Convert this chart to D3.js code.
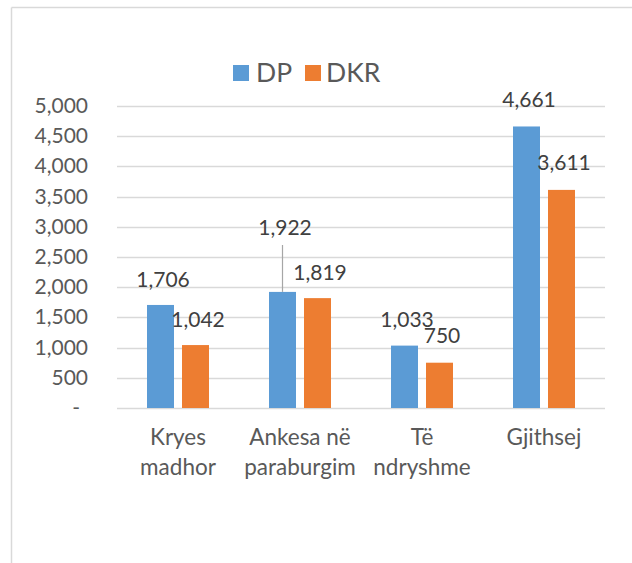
<!DOCTYPE html>
<html><head><meta charset="utf-8">
<script src="https://cdn.jsdelivr.net/npm/d3@7"></script>
<style>body{margin:0;background:#fff}svg{display:block}text{font-family:Lato,"Open Sans",sans-serif}</style>
</head><body>
<script>
const categories = [["Kryes","madhor"],["Ankesa në","paraburgim"],["Të","ndryshme"],["Gjithsej"]];
const seriesNames = ["DP","DKR"];
const dpValues = [1706, 1922, 1033, 4661];
const dkrValues = [1042, 1819, 750, 3611];
const yTicks = [0,500,1000,1500,2000,2500,3000,3500,4000,4500,5000];
const colors = ["#5b9bd5","#ed7d31"];

const W=632,H=563;
const svg=d3.select("body").append("svg").attr("width",W).attr("height",H);
// chart border (cropped)
svg.append("line").attr("x1",11.5).attr("x2",W).attr("y1",7.5).attr("y2",7.5).attr("stroke","#d9d9d9").attr("stroke-width",1.5);
svg.append("line").attr("x1",11.5).attr("x2",11.5).attr("y1",7.5).attr("y2",H).attr("stroke","#d9d9d9").attr("stroke-width",1.5);

const x0=d3.scaleBand().domain(d3.range(categories.length)).range([117,605]);
const y=d3.scaleLinear().domain([0,5000]).range([408,106]);
const barW=27, gap=8;

// gridlines
svg.append("g").selectAll("line").data(yTicks).join("line")
  .attr("x1",117).attr("x2",605).attr("y1",d=>Math.round(y(d))+0.5).attr("y2",d=>Math.round(y(d))+0.5)
  .attr("stroke","#d9d9d9").attr("stroke-width",1.5);

// y tick labels
const fmt=d3.format(",");
svg.append("g").selectAll("text").data(yTicks).join("text")
  .attr("x",d=>d===0?80:88).attr("y",d=>y(d)+7)
  .attr("text-anchor","end").attr("font-size",21).attr("fill","#595959")
  .text(d=>d===0?"-":fmt(d));

const series=[dpValues,dkrValues];
series.forEach((vals,si)=>{
  svg.append("g").selectAll("rect").data(vals).join("rect")
    .attr("x",(d,i)=>x0(i)+x0.bandwidth()/2+(si===0?-(gap/2+barW):gap/2))
    .attr("width",barW)
    .attr("y",d=>y(d)).attr("height",d=>y(0)-y(d))
    .attr("fill",colors[si]);
});

// data labels (Excel auto-placed offsets)
const labelDy=[[-18,-57,-19,-19],[-18,-18,-20,-20]];
series.forEach((vals,si)=>{
  vals.forEach((v,i)=>{
    const cx=x0(i)+x0.bandwidth()/2+(si===0?-(gap/2+barW/2):gap/2+barW/2);
    svg.append("text").attr("x",cx+2.5).attr("y",y(v)+labelDy[si][i])
      .attr("text-anchor","middle").attr("font-size",21).attr("fill","#404040").text(fmt(v));
  });
});
// leader line for 1,922
{
  const cx=x0(1)+x0.bandwidth()/2-(gap/2+barW/2);
  svg.append("line").attr("x1",cx).attr("x2",cx).attr("y1",245).attr("y2",y(dpValues[1]))
    .attr("stroke","#a6a6a6").attr("stroke-width",1.2);
}

// category labels
categories.forEach((lines,i)=>{
  const t=svg.append("text").attr("x",x0(i)+x0.bandwidth()/2).attr("y",445)
    .attr("text-anchor","middle").attr("font-size",22.5).attr("fill","#595959");
  lines.forEach((l,j)=>t.append("tspan").attr("x",x0(i)+x0.bandwidth()/2).attr("y",445+j*30).text(l));
});

// legend
const lg=svg.append("g");
const legendItems=[{n:seriesNames[0],x:233,tx:256},{n:seriesNames[1],x:305,tx:326}];
legendItems.forEach((it,i)=>{
  lg.append("rect").attr("x",it.x).attr("y",65).attr("width",16).attr("height",16).attr("fill",colors[i]);
  lg.append("text").attr("x",it.tx).attr("y",82).attr("font-size",26.5).attr("fill","#595959").text(it.n);
});
</script>
</body></html>
